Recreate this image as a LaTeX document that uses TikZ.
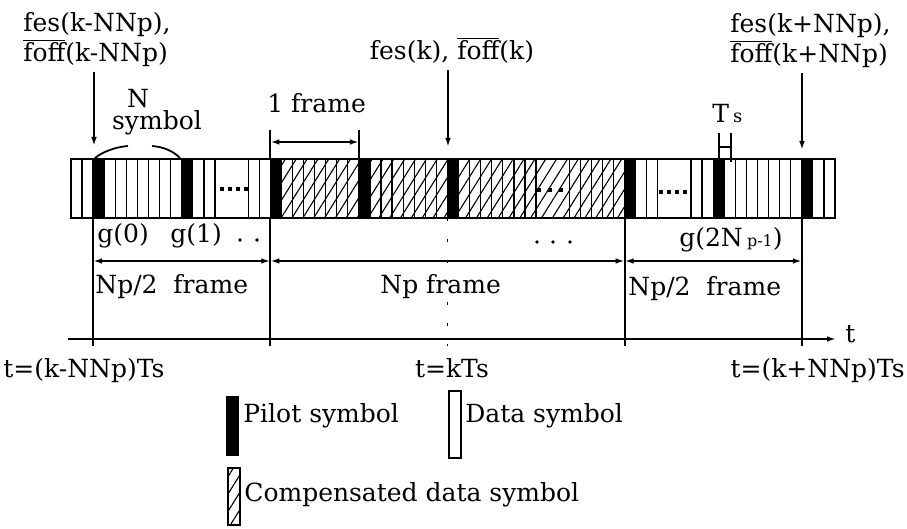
\documentclass[tikz,border=0pt]{standalone}
\usepackage{fontspec}
\setmainfont{DejaVu Serif}
\usetikzlibrary{arrows.meta,patterns.meta}

\newcommand{\cw}{11.072}
\newcommand{\ovl}[1]{$\overline{\mbox{#1}}$}

\begin{document}
\begin{tikzpicture}[
    x=0.5pt, y=-0.5pt,
    lbl/.style={inner sep=0pt, font=\fontsize{12.5}{15}\selectfont},
    datacell/.style={draw=black, fill=white, line width=0.65pt},
    pilotcell/.style={draw=black, fill=black, line width=0.65pt},
    compcell/.style={draw=black, line width=0.65pt, pattern={Lines[angle=58, distance=4.6pt, line width=0.55pt]}},
    line/.style={draw=black, line width=0.9pt},
    arr/.style={line, -{Latex[length=4.5pt, width=2.8pt]}},
    dim/.style={line, {Latex[length=4.5pt, width=2.8pt]}-{Latex[length=4.5pt, width=2.8pt]}}
]

% Granice obrazka
\useasboundingbox (0,0) rectangle (907,529);

% Rysowanie wszystkich symboli danych
\foreach \i in {0,...,68}
  \draw[datacell] ({71+\i*\cw},159) rectangle ++(\cw,59);

% Rysowanie skompensowanych symboli danych
\foreach \i in {19,...,49}
  \draw[compcell] ({71+\i*\cw},159) rectangle ++(\cw,59);

% Rysowanie scalonych komórek z kropkami
\draw[datacell] ({71+13*\cw},159) rectangle ++({3*\cw},59);
\draw[datacell] ({71+53*\cw},159) rectangle ++({3*\cw},59);
\draw[datacell] ({71+42*\cw},159) rectangle ++({3*\cw},59);
\draw[compcell] ({71+42*\cw},159) rectangle ++({3*\cw},59);
\foreach \k in {0,...,3} {
  \fill (220+\k*8,187) rectangle ++(3.8,3.8);
  \fill (659+\k*8,190) rectangle ++(3.8,3.8);
}
\foreach \k in {0,...,2}
  \fill (537+\k*11,188) rectangle ++(4.2,4.2);

% Rysowanie symboli pilotowych
\foreach \i in {2,10,18,26,34,50,58,66}
  \draw[pilotcell] ({71+\i*\cw},159) rectangle ++(\cw,59);

% Obrys ramki
\draw[line width=1.1pt] (71,159) rectangle (835,218);

% Współrzędne dolnych krawędzi przy pilotach
\coordinate (b0) at (93.1,218);
\coordinate (b1) at (270.3,218);
\coordinate (b2) at (447.5,218);
\coordinate (b3) at (624.6,218);
\coordinate (b4) at (801.8,218);

% Współrzędne końców linii pod osią
\coordinate (e0) at (93.1,346);
\coordinate (e1) at (270.3,346);
\coordinate (e2) at (447.5,346);
\coordinate (e3) at (624.6,346);
\coordinate (e4) at (801.8,346);

% Współrzędne strzałek wymiarowych
\coordinate (d0) at (93.1,261);
\coordinate (d1) at (270.3,261);
\coordinate (d2) at (447.5,261);
\coordinate (d3) at (624.6,261);
\coordinate (d4) at (801.8,261);

% Linie pionowe i strzałki wymiarowe
\draw[line] (b0) -- (e0);
\draw[line] (b1) -- (e1);
\draw[line, dash pattern=on 1.5pt off 9pt] (b2) -- (e2);
\draw[line] (b3) -- (e3);
\draw[line] (b4) -- (e4);
\draw[dim] (d0) -- (d1);
\draw[dim] (d1) -- (d3);
\draw[dim] (d3) -- (d4);

% Oś czasu
\coordinate (ax0) at (68,339);
\coordinate (ax1) at (836,339);
\draw[arr] (ax0) -- (ax1);
\node[lbl, anchor=base west] (tl) at (845,343) {t};

% Znacznik jednej ramki
\coordinate (f0) at (270.3,130);
\coordinate (f1) at (358.9,130);
\coordinate (h0) at (270.3,142);
\coordinate (h1) at (358.9,142);
\draw[line] (f0) -- ++(0,29);
\draw[line] (f1) -- ++(0,29);
\draw[dim] (h0) -- (h1);
\node[lbl, anchor=base west] (fr) at (267,113) {1 frame};

% Znacznik okresu symbolu
\coordinate (s0) at (719,133);
\coordinate (s1) at (731,133);
\draw[line] (s0) -- ++(0,29);
\draw[line] (s1) -- ++(0,29);
\draw[line] ([yshift=-7pt]s0) -- ([yshift=-7pt]s1);
\node[lbl, anchor=base west] (ts) at (712,123) {T\,{\small s}};

% Klamra nad N symbolami
\coordinate (br0) at (95,158);
\coordinate (br1) at (128,146);
\coordinate (br2) at (152,146);
\coordinate (br3) at (180,158);
\draw[line] (br0) .. controls (104,151) and (116,147) .. (br1);
\draw[line] (br2) .. controls (164,147) and (173,151) .. (br3);
\node[lbl, anchor=base] (nn) at (138,108) {N};
\node[lbl, anchor=base] (ns) at (157,130) {symbol};

% Etykiety estymat nad ramką
\node[lbl, anchor=base west] (lk1) at (23,32) {fes(k-NNp),};
\node[lbl, anchor=base west] (lk2) at (23,62) {\ovl{foff}(k-NNp)};
\node[lbl, anchor=base] (mk) at (452,60) {fes(k), \ovl{foff}(k)};
\node[lbl, anchor=base west] (rk1) at (730,33) {fes(k+NNp),};
\node[lbl, anchor=base west] (rk2) at (730,63) {\ovl{foff}(k+NNp)};

% Strzałki od etykiet do pilotów
\coordinate (ak0) at (94,146);
\coordinate (ak1) at (448,147);
\coordinate (ak2) at (802,150);
\draw[arr] ([yshift=-2pt]lk2.south -| ak0) -- (ak0);
\draw[arr] ([yshift=-3pt]mk.south -| ak1) -- (ak1);
\draw[arr] ([yshift=-2pt]rk2.south -| ak2) -- (ak2);

% Etykiety g pod ramką
\node[lbl, anchor=base west] (g0) at (97,243) {g(0)};
\node[lbl, anchor=base west] (g1) at (170,243) {g(1)};
\node[lbl, anchor=base east] (gn) at (783,247) {g(2N\,{\footnotesize p-1})};
\fill (240,240) circle (0.9pt) (257,240) circle (0.9pt);
\fill (537,242) circle (0.9pt) (553,242) circle (0.9pt) (570,242) circle (0.9pt);

% Etykiety długości
\node[lbl, anchor=base west] (n0) at (95,294) {Np/2\ \ frame};
\node[lbl, anchor=base west] (n1) at (380,294) {Np frame};
\node[lbl, anchor=base west] (n2) at (628,296) {Np/2\ \ frame};

% Etykiety chwil czasu
\node[lbl, anchor=base west] (t0) at (3,378) {t=(k-NNp)Ts};
\node[lbl, anchor=base] (t1) at (452,378) {t=kTs};
\node[lbl, anchor=base east] (t2) at (905,378) {t=(k+NNp)Ts};

% Legenda
\node[pilotcell, inner sep=0pt, minimum width=5.5pt, minimum height=29pt] (kp) at (232.5,426) {};
\node[datacell, inner sep=0pt, minimum width=6pt, minimum height=33.5pt] (kd) at (455,424.5) {};
\node[compcell, inner sep=0pt, minimum width=6pt, minimum height=28.5pt] (kc) at (234,496.5) {};
\node[lbl, anchor=base west] (kpt) at (243,423) {Pilot symbol};
\node[lbl, anchor=base west] (kdt) at (465,423) {Data symbol};
\node[lbl, anchor=base west] (kct) at (244,502) {Compensated data symbol};

\end{tikzpicture}
\end{document}
